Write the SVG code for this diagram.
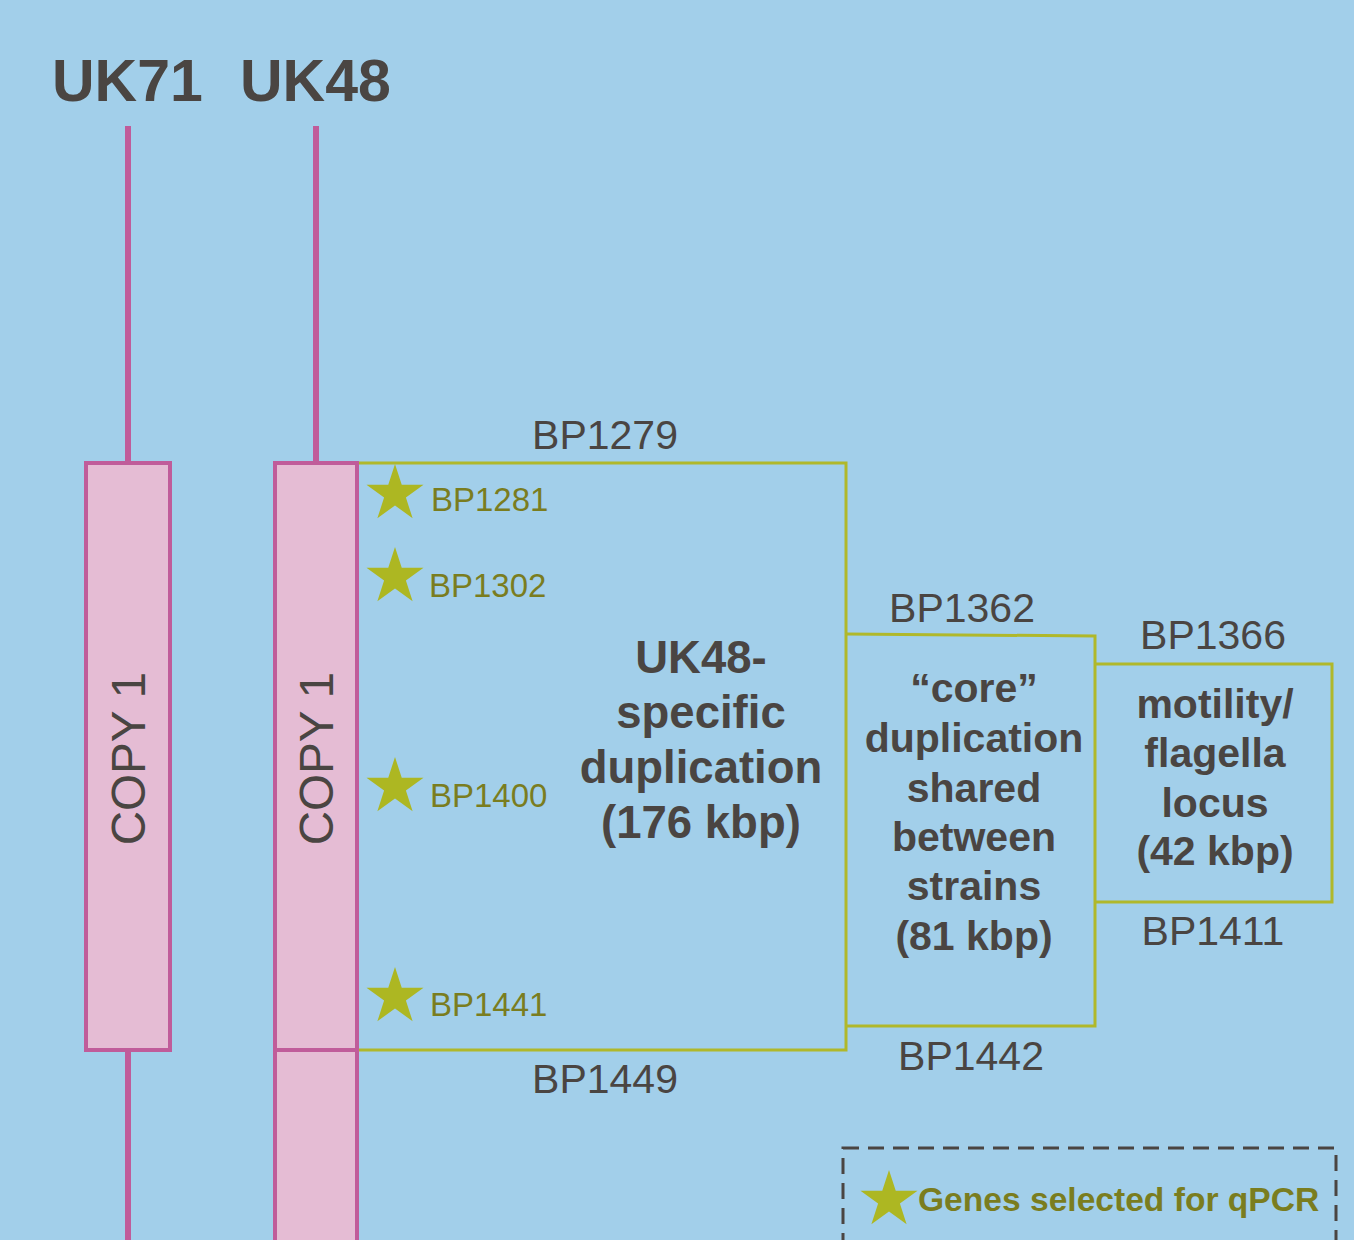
<svg xmlns="http://www.w3.org/2000/svg" width="1354" height="1240" viewBox="0 0 1354 1240">
<style>
.pk{fill:none;stroke:#c05c9a;stroke-width:6}
.box{fill:#e5bcd4;stroke:#c05c9a;stroke-width:4}
.ol{fill:none;stroke:#b0b82a;stroke-width:3}
.t{font-family:"Liberation Sans",Arial,sans-serif;fill:#4a4542}
.b{font-weight:bold}
.m{text-anchor:middle}
.g{font-family:"Liberation Sans",Arial,sans-serif;fill:#7a7d1f}
.star{fill:#adb722}
</style>
<defs>
<path id="star" d="M0,-30 L6.74,-9.27 L28.53,-9.27 L10.9,3.54 L17.63,24.27 L0,11.46 L-17.63,24.27 L-10.9,3.54 L-28.53,-9.27 L-6.74,-9.27 Z"/>
</defs>
<rect width="1354" height="1240" fill="#a2cfea"/>
<g id="titles">
<text class="t b" x="52" y="101" font-size="59">UK71</text>
<text class="t b" x="240" y="101" font-size="59">UK48</text>
</g>
<g id="connectors">
<line class="pk" x1="128" y1="126" x2="128" y2="463"/>
<line class="pk" x1="128" y1="1050" x2="128" y2="1240"/>
<line class="pk" x1="316" y1="126" x2="316" y2="463"/>
<polyline class="ol" points="357,463 846,463 846,1050 357,1050"/>
<polyline class="ol" points="846,634 1095,636 1095,1026 846,1026"/>
<polyline class="ol" points="1095,664 1332,664 1332,902 1095,902"/>
</g>
<g id="uk71-copy1">
<rect class="box" x="86" y="463" width="84" height="587"/>
<text class="t m" font-size="47.5" transform="translate(145,758.5) rotate(-90)">COPY 1</text>
</g>
<g id="uk48-copy1">
<rect class="box" x="275" y="463" width="82" height="587"/>
<text class="t m" font-size="47.5" transform="translate(333,758.5) rotate(-90)">COPY 1</text>
</g>
<g id="uk48-copy2">
<rect class="box" x="275" y="1050" width="82" height="200"/>
</g>
<g id="genes">
<use href="#star" class="star" x="395" y="494"/>
<text class="g" x="431" y="511" font-size="33">BP1281</text>
<use href="#star" class="star" x="395" y="577"/>
<text class="g" x="429" y="597" font-size="33">BP1302</text>
<use href="#star" class="star" x="395" y="787"/>
<text class="g" x="430" y="807" font-size="33">BP1400</text>
<use href="#star" class="star" x="395" y="997"/>
<text class="g" x="430" y="1016" font-size="33">BP1441</text>
</g>
<g id="uk48-specific">
<text class="t m" x="605" y="449" font-size="41">BP1279</text>
<text class="t m" x="605" y="1093" font-size="41">BP1449</text>
<text class="t b m" x="701" y="673" font-size="45.5">UK48-</text>
<text class="t b m" x="701" y="728" font-size="45.5">specific</text>
<text class="t b m" x="701" y="783" font-size="45.5">duplication</text>
<text class="t b m" x="701" y="838" font-size="45.5">(176 kbp)</text>
</g>
<g id="core">
<text class="t m" x="962" y="622" font-size="41">BP1362</text>
<text class="t m" x="971" y="1070" font-size="41">BP1442</text>
<text class="t b m" x="974" y="702" font-size="41">“core”</text>
<text class="t b m" x="974" y="752" font-size="41">duplication</text>
<text class="t b m" x="974" y="802" font-size="41">shared</text>
<text class="t b m" x="974" y="851" font-size="41">between</text>
<text class="t b m" x="974" y="900" font-size="41">strains</text>
<text class="t b m" x="974" y="950" font-size="41">(81 kbp)</text>
</g>
<g id="motility">
<text class="t m" x="1213" y="649" font-size="41">BP1366</text>
<text class="t m" x="1213" y="945" font-size="41">BP1411</text>
<text class="t b m" x="1215" y="718" font-size="41">motility/</text>
<text class="t b m" x="1215" y="767" font-size="41">flagella</text>
<text class="t b m" x="1215" y="817" font-size="41">locus</text>
<text class="t b m" x="1215" y="865" font-size="41">(42 kbp)</text>
</g>
<g id="legend">
<rect x="843" y="1148" width="493" height="120" fill="none" stroke="#4a4542" stroke-width="3" stroke-dasharray="16 9"/>
<use href="#star" class="star" x="889" y="1200"/>
<text class="g b" x="918" y="1211" font-size="33.6">Genes selected for qPCR</text>
</g>
</svg>
